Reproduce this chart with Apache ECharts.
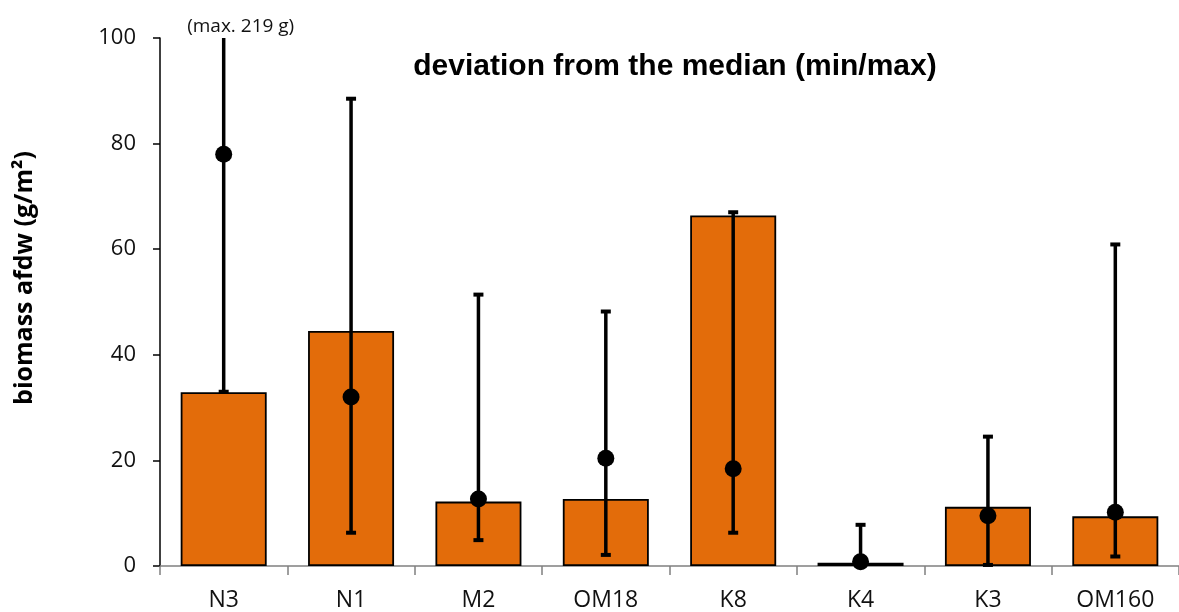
<!DOCTYPE html>
<html>
<head>
<meta charset="utf-8">
<script src="https://cdn.jsdelivr.net/npm/echarts@6/dist/echarts.min.js"></script>
<style>
  html, body { margin: 0; padding: 0; background: #fff; }
  #chart { width: 1179px; height: 612px; }
</style>
</head>
<body>
<div id="chart"></div>
<script>
// Sampling sites
const categories = ['N3', 'N1', 'M2', 'OM18', 'K8', 'K4', 'K3', 'OM160'];
// Biomass (ash-free dry weight, g/m²) shown as bars
const biomass = [32.9, 44.5, 12.2, 12.7, 66.4, 0.6, 11.2, 9.4];
// Median of the samples (dots)
const medians = [78.0, 32.0, 12.7, 20.4, 18.4, 0.8, 9.5, 10.2];
// Range of the samples (whiskers)
const minVals = [33.0, 6.3, 4.9, 2.1, 6.3, 0.0, 0.2, 1.8];
const maxVals = [219, 88.5, 51.4, 48.2, 67.0, 7.8, 24.5, 60.9];
// Value axis ticks
const yTicks = [0, 20, 40, 60, 80, 100];

const tickFont = '"Open Sans", "Liberation Sans", sans-serif';
const chart = echarts.init(document.getElementById('chart'), null, { renderer: 'canvas' });

const yMin = yTicks[0];
const yMax = yTicks[yTicks.length - 1];

const option = {
  animation: false,
  backgroundColor: '#ffffff',
  title: {
    text: 'deviation from the median (min/max)',
    left: 670,
    top: 47,
    textAlign: 'center',
    textStyle: {
      fontFamily: '"Liberation Sans", Arial, sans-serif',
      fontWeight: 'bold',
      fontSize: 30,
      color: '#000'
    }
  },
  grid: { left: 160, right: 0, top: 38, bottom: 45, containLabel: false },
  xAxis: {
    type: 'category',
    data: categories,
    boundaryGap: true,
    axisLine: { lineStyle: { color: '#808080', width: 1.5 } },
    axisTick: { show: true, alignWithLabel: false, length: 9, lineStyle: { color: '#808080', width: 1.5 } },
    axisLabel: { color: '#111', fontFamily: tickFont, fontSize: 23, margin: 23 },
    splitLine: { show: false }
  },
  yAxis: {
    type: 'value',
    min: yMin,
    max: yMax,
    interval: yTicks[1] - yTicks[0],
    axisLine: { show: true, lineStyle: { color: '#000', width: 1.5 } },
    axisTick: { show: true, length: 7, lineStyle: { color: '#000', width: 1.5 } },
    axisLabel: { color: '#111', fontFamily: tickFont, fontSize: 22, margin: 24 },
    splitLine: { show: false }
  },
  graphic: [
    {
      type: 'text',
      x: 25,
      y: 278,
      rotation: Math.PI / 2,
      style: {
        text: 'biomass afdw (g/m²)',
        fill: '#000',
        font: 'bold 25px "Open Sans", "Liberation Sans", sans-serif',
        align: 'center',
        verticalAlign: 'middle'
      }
    }
  ],
  series: [
    {
      name: 'biomass',
      type: 'bar',
      data: biomass,
      barWidth: 86,
      itemStyle: { color: '#E36C0A', borderColor: '#000', borderWidth: 1.8 },
      z: 2
    },
    {
      name: 'range',
      type: 'custom',
      clip: false,
      z: 3,
      data: categories.map((c, i) => [i, minVals[i], maxVals[i]]),
      renderItem: function (params, api) {
        const idx = api.value(0);
        const lo = api.value(1);
        const hi = api.value(2);
        const pLo = api.coord([idx, lo]);
        const pHi = api.coord([idx, Math.min(hi, yMax)]);
        const top = params.coordSys.y;
        const cx = pLo[0];
        const capHalf = 5;
        const stroke = { stroke: '#000', lineWidth: 3.5, lineCap: 'butt' };
        const children = [
          { type: 'line', shape: { x1: cx, y1: pLo[1], x2: cx, y2: pHi[1] }, style: stroke },
          { type: 'line', shape: { x1: cx - capHalf, y1: pLo[1], x2: cx + capHalf, y2: pLo[1] }, style: { stroke: '#000', lineWidth: 4 } }
        ];
        if (hi <= yMax) {
          children.push({ type: 'line', shape: { x1: cx - capHalf, y1: pHi[1], x2: cx + capHalf, y2: pHi[1] }, style: { stroke: '#000', lineWidth: 4 } });
        } else {
          // whisker runs off the top of the axis: state its true maximum
          children.push({
            type: 'text',
            x: cx + 17,
            y: top - 11,
            style: {
              text: '(max. ' + hi + ' g)',
              fill: '#111',
              font: '19px "Open Sans", "Liberation Sans", sans-serif',
              align: 'center',
              verticalAlign: 'middle'
            }
          });
        }
        return { type: 'group', children: children };
      }
    },
    {
      name: 'median',
      type: 'scatter',
      data: medians,
      symbol: 'circle',
      symbolSize: 17,
      itemStyle: { color: '#000', opacity: 1 },
      z: 4
    }
  ]
};

chart.setOption(option);
</script>
</body>
</html>
